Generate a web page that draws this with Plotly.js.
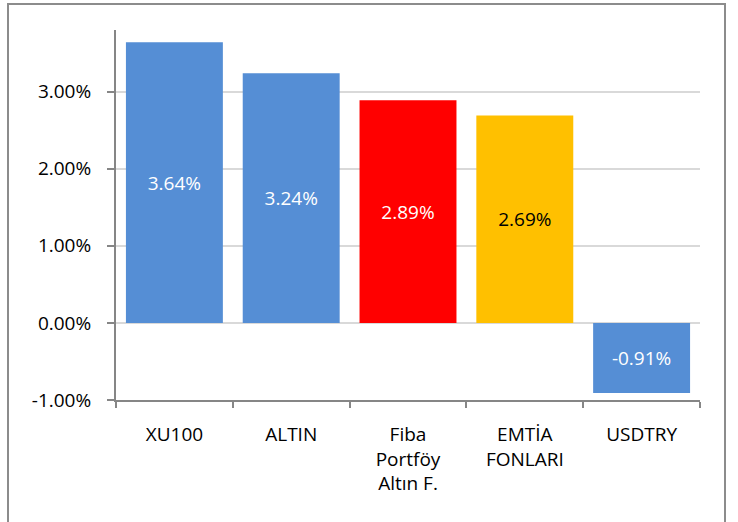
<!DOCTYPE html>
<html>
<head>
<meta charset="utf-8">
<script src="https://cdn.plot.ly/plotly-3.0.1.min.js"></script>
<style>
  html, body { margin: 0; padding: 0; background: #ffffff; }
  #wrap { position: relative; width: 738px; height: 522px; }
  #chart { width: 738px; height: 522px; }
  #frame { position: absolute; left: 7px; top: 3px; width: 719px; height: 530px; border: 2px solid #8c8c8c; box-sizing: border-box; pointer-events: none; }
</style>
</head>
<body>
<div id="wrap">
  <div id="chart"></div>
  <div id="frame"></div>
</div>
<script>
const categories = ["XU100", "ALTIN", "Fiba<br>Portföy<br>Altın F.", "EMTİA<br>FONLARI", "USDTRY"];
const values = [3.64, 3.24, 2.89, 2.69, -0.91];
const barColors = ["#558ED5", "#558ED5", "#FF0000", "#FFC000", "#558ED5"];
const labelColors = ["#ffffff", "#ffffff", "#ffffff", "#000000", "#ffffff"];
const tickVals = [-1, 0, 1, 2, 3];
const tickText = ["-1.00%", "0.00%", "1.00%", "2.00%", "3.00%"];

const FONT = "Open Sans, Liberation Sans, sans-serif";

const trace = {
  type: "bar",
  x: categories,
  y: values,
  marker: { color: barColors, line: { width: 0 } },
  text: values.map(v => v.toFixed(2) + "%"),
  textposition: "inside",
  insidetextanchor: "middle",
  textangle: 0,
  constraintext: "none",
  insidetextfont: { family: FONT, size: 19, color: labelColors },
  hoverinfo: "none",
  cliponaxis: false
};

const layout = {
  width: 738,
  height: 522,
  margin: { l: 116, r: 38, t: 30, b: 122 },
  paper_bgcolor: "#ffffff",
  plot_bgcolor: "#ffffff",
  showlegend: false,
  bargap: 0.17,
  font: { family: FONT, size: 19, color: "#000000" },
  xaxis: {
    type: "category",
    showgrid: false,
    zeroline: false,
    showline: true,
    linecolor: "#868686",
    linewidth: 2,
    ticks: "outside",
    tickson: "boundaries",
    ticklen: 6,
    tickwidth: 2,
    tickcolor: "#868686",
    ticklabelstandoff: 16,
    tickfont: { family: FONT, size: 19, color: "#000000" },
    automargin: false
  },
  yaxis: {
    range: [-1, 3.8],
    tickvals: tickVals,
    ticktext: tickText,
    showgrid: true,
    gridcolor: "#d9d9d9",
    gridwidth: 2,
    zeroline: false,
    showline: true,
    linecolor: "#868686",
    linewidth: 2,
    ticks: "outside",
    ticklen: 7,
    tickwidth: 2,
    tickcolor: "#868686",
    ticklabelstandoff: 12,
    tickfont: { family: FONT, size: 19, color: "#000000" },
    automargin: false
  }
};

Plotly.newPlot("chart", [trace], layout, { displayModeBar: false, staticPlot: true });
</script>
</body>
</html>
